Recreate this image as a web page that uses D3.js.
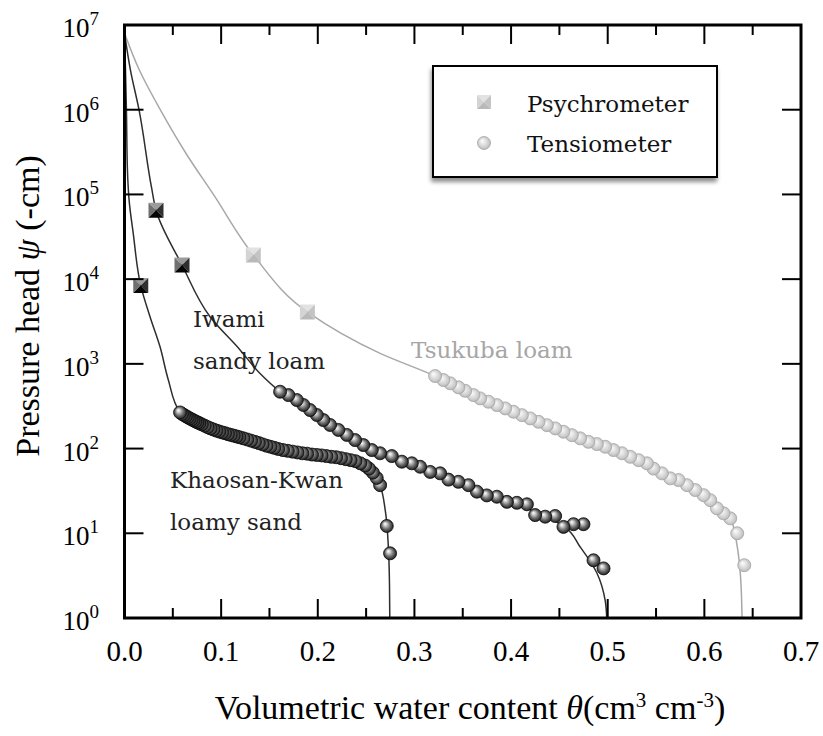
<!DOCTYPE html>
<html>
<head>
<meta charset="utf-8">
<script src="https://cdn.jsdelivr.net/npm/d3@7"></script>
<style>
  html, body { margin: 0; padding: 0; background: #fff; }
  svg { display: block; }
</style>
</head>
<body>
<div id="chart"></div>
<script>
// ---- data (theta in cm3/cm3, psi in -cm) ----
const khaosanPsychro = [[0.0168, 8400]];
const khaosanTensio = [
  [0.0575,267],[0.0595,257],[0.0615,249],[0.0635,241],[0.0655,234],[0.0675,227],[0.0695,221],
  [0.0715,215],[0.0735,209],[0.0755,204],[0.0775,199],[0.080,193],[0.083,186],[0.086,179],
  [0.089,173],[0.092,168],[0.095,163],[0.098,159],[0.101,155],[0.104,152],[0.107,148],
  [0.110,145],[0.113,142],[0.116,139],[0.119,136],[0.123,132],[0.127,128],[0.131,124],
  [0.135,120],[0.139,116],[0.143,112],[0.147,108],[0.151,105],[0.155,102],[0.159,99],
  [0.164,96],[0.169,94],[0.174,92],[0.179,90],[0.184,88],[0.189,87],[0.194,85],[0.199,84],
  [0.204,83],[0.209,81.5],[0.214,80],[0.219,79],[0.224,77],[0.229,75],[0.234,73],[0.239,71],
  [0.244,67],[0.249,63],[0.253,58],[0.257,52],[0.261,45],[0.2645,37],[0.2714,12.2],[0.2748,5.8]
];
const khaosanCurve = [
  [0,8e6],[0.001,3e6],[0.002,1e6],[0.003,2e5],[0.005,8e4],[0.009,3.5e4],[0.0168,8400],
  [0.0264,3600],[0.0367,1600],[0.0453,650],[0.0575,267],[0.09,170],[0.13,125],[0.17,93],
  [0.21,81],[0.24,70],[0.255,55],[0.264,38],[0.27,18],[0.273,7],[0.2742,2.5],[0.2745,1]
];

const iwamiPsychro = [[0.0326, 65000], [0.0595, 14700]];
const iwamiTensio = [
  [0.161,469],[0.1696,428],[0.1783,374],[0.1851,327],[0.192,285],[0.199,249],[0.2058,217],
  [0.2127,190],[0.2213,166],[0.230,145],[0.2386,126],[0.2472,110],[0.2559,96],[0.2645,88],
  [0.2766,81.5],[0.287,70],[0.2973,67],[0.3059,61],[0.3163,53],[0.3266,51],[0.3352,43],
  [0.3455,40.5],[0.3559,37],[0.3646,31],[0.3749,28],[0.3853,27],[0.3957,23.5],[0.406,22.9],
  [0.4164,22],[0.4249,16.4],[0.4353,15.7],[0.4456,16],[0.4542,11.9],[0.4646,12.8],
  [0.4749,12.8],[0.4853,4.8],[0.4957,3.85]
];
const iwamiCurve = [
  [0,8e6],[0.006,3e6],[0.015,1e6],[0.028,1.2e5],[0.0326,6.5e4],[0.0595,1.47e4],[0.0885,3600],
  [0.1196,1460],[0.140,773],[0.161,469],[0.20,240],[0.25,105],[0.30,65],[0.35,40],[0.40,23.5],
  [0.44,15],[0.455,12],[0.4715,6.9],[0.4888,3.4],[0.4974,1.6],[0.499,1]
];

const tsukubaPsychro = [[0.1333, 19300], [0.1892, 4100]];
const tsukubaTensio = [
  [0.3214,718],[0.330,644],[0.337,589],[0.3456,528],[0.3525,481],[0.3611,428],[0.368,391],
  [0.3766,357],[0.3853,326],[0.3939,298],[0.4025,272],[0.4112,248],[0.4198,227],[0.4284,207],
  [0.4371,189],[0.4457,173],[0.4542,158],[0.4629,144],[0.4715,132],[0.4801,120],[0.4888,113],
  [0.4974,105],[0.506,96],[0.5147,88],[0.5233,80],[0.5319,73],[0.5406,67],[0.5474,58],
  [0.5561,51],[0.5647,44.5],[0.5733,42.5],[0.582,37],[0.5906,32.4],[0.5992,28.2],[0.6061,24.6],
  [0.613,19.7],[0.6199,17.2],[0.6268,15],[0.634,10],[0.6413,4.2]
];
const tsukubaCurve = [
  [0,8e6],[0.015,3e6],[0.037,1e6],[0.064,3e5],[0.092,1e5],[0.1333,19300],[0.1892,4100],
  [0.2645,1330],[0.3214,718],[0.37,385],[0.42,227],[0.47,134],[0.52,83],[0.56,48],
  [0.59,33],[0.61,22],[0.627,15],[0.634,7],[0.6375,3],[0.639,1]
];

const xTicks = [0, 0.1, 0.2, 0.3, 0.4, 0.5, 0.6, 0.7];
const xMinorTicks = [0.05, 0.15, 0.25, 0.35, 0.45, 0.55, 0.65];
const yExponents = [0, 1, 2, 3, 4, 5, 6, 7];

// ---- layout ----
const W = 823, H = 736;
const LEFT = 124.5, RIGHT = 801, TOP = 25, BOTTOM = 618;
const TICK_FONT = '"Liberation Serif", "Times New Roman", serif';
const LABEL_FONT = '"DejaVu Serif", serif';

const x = d3.scaleLinear().domain([0, 0.7]).range([LEFT, RIGHT]);
const y = d3.scaleLog().domain([1, 1e7]).range([BOTTOM, TOP]);

const svg = d3.select('#chart').append('svg')
  .attr('width', W).attr('height', H);

const defs = svg.append('defs');
defs.append('clipPath').attr('id', 'plot-clip')
  .append('rect').attr('x', LEFT).attr('y', TOP)
  .attr('width', RIGHT - LEFT).attr('height', BOTTOM - TOP);

function sphereGradient(id, stops) {
  const g = defs.append('radialGradient').attr('id', id)
    .attr('cx', '50%').attr('cy', '50%').attr('r', '55%')
    .attr('fx', '35%').attr('fy', '32%');
  stops.forEach(([o, c]) => g.append('stop').attr('offset', o).attr('stop-color', c));
}
sphereGradient('ball-dark', [['0%', '#ffffff'], ['20%', '#d8d8d8'], ['60%', '#6a6a6a'], ['100%', '#101010']]);
sphereGradient('ball-light', [['0%', '#ffffff'], ['25%', '#eeeeee'], ['70%', '#cfcfcf'], ['100%', '#b0b0b0']]);

const shadow = defs.append('filter').attr('id', 'legend-shadow')
  .attr('x', '-10%').attr('y', '-10%').attr('width', '130%').attr('height', '140%');
shadow.append('feGaussianBlur').attr('in', 'SourceAlpha').attr('stdDeviation', 2);
shadow.append('feOffset').attr('dx', -1).attr('dy', 4).attr('result', 'off');
shadow.append('feComponentTransfer').append('feFuncA').attr('type', 'linear').attr('slope', 0.45);
const merge = shadow.append('feMerge');
merge.append('feMergeNode');
merge.append('feMergeNode').attr('in', 'SourceGraphic');

// ---- curves ----
const line = d3.line()
  .x(d => x(d[0])).y(d => y(d[1]))
  .curve(d3.curveMonotoneY);

const plot = svg.append('g').attr('clip-path', 'url(#plot-clip)');

[[tsukubaCurve, '#a8a8a8'], [iwamiCurve, '#2e2e2e'], [khaosanCurve, '#2e2e2e']]
  .forEach(([pts, color]) => {
    plot.append('path').datum(pts)
      .attr('d', line)
      .attr('fill', 'none')
      .attr('stroke', color)
      .attr('stroke-width', 1.5);
  });

// ---- markers ----
const BALL_R = 6.5;
const SQ = 7.5; // half side of pyramid square

function drawBalls(pts, dark) {
  // higher theta first so the drier points sit on top
  const ordered = pts.slice().sort((a, b) => b[0] - a[0]);
  plot.append('g').selectAll('circle')
    .data(ordered)
    .join('circle')
    .attr('cx', d => x(d[0]))
    .attr('cy', d => y(d[1]))
    .attr('r', BALL_R)
    .attr('fill', dark ? 'url(#ball-dark)' : 'url(#ball-light)')
    .attr('stroke', dark ? '#0a0a0a' : '#a6a6a6')
    .attr('stroke-width', 0.8);
}

function pyramid(g, cx, cy, s, shades) {
  const tl = [cx - s, cy - s], tr = [cx + s, cy - s], br = [cx + s, cy + s], bl = [cx - s, cy + s], c = [cx, cy];
  const faces = [[tl, tr, c], [tl, c, bl], [tr, br, c], [bl, c, br]];
  faces.forEach((f, i) => {
    g.append('polygon').attr('points', f.map(p => p.join(',')).join(' ')).attr('fill', shades[i]);
  });
}

const darkShades = ['#9c9c9c', '#707070', '#303030', '#050505'];
const lightShades = ['#e2e2e2', '#d4d4d4', '#c4c4c4', '#b9b9b9'];

function drawSquares(pts, shades) {
  const g = plot.append('g');
  pts.forEach(d => pyramid(g, x(d[0]), y(d[1]), SQ, shades));
}

drawBalls(tsukubaTensio, false);
drawSquares(tsukubaPsychro, lightShades);
drawBalls(iwamiTensio, true);
drawSquares(iwamiPsychro, darkShades);
drawBalls(khaosanTensio, true);
drawSquares(khaosanPsychro, darkShades);

// ---- frame and ticks ----
const axes = svg.append('g').attr('stroke', '#000').attr('stroke-linecap', 'square');
axes.append('rect')
  .attr('x', LEFT).attr('y', TOP)
  .attr('width', RIGHT - LEFT).attr('height', BOTTOM - TOP)
  .attr('fill', 'none').attr('stroke-width', 3);

const MAJOR = 18, MINOR = 9;
xTicks.slice(1, -1).forEach(t => {
  axes.append('line').attr('x1', x(t)).attr('x2', x(t)).attr('y1', BOTTOM).attr('y2', BOTTOM - MAJOR).attr('stroke-width', 2);
  axes.append('line').attr('x1', x(t)).attr('x2', x(t)).attr('y1', TOP).attr('y2', TOP + MAJOR).attr('stroke-width', 2);
});
xMinorTicks.forEach(t => {
  axes.append('line').attr('x1', x(t)).attr('x2', x(t)).attr('y1', BOTTOM).attr('y2', BOTTOM - MINOR).attr('stroke-width', 2);
  axes.append('line').attr('x1', x(t)).attr('x2', x(t)).attr('y1', TOP).attr('y2', TOP + MINOR).attr('stroke-width', 2);
});
yExponents.slice(1, -1).forEach(e => {
  const v = Math.pow(10, e);
  axes.append('line').attr('x1', LEFT).attr('x2', LEFT + MAJOR).attr('y1', y(v)).attr('y2', y(v)).attr('stroke-width', 2);
  axes.append('line').attr('x1', RIGHT).attr('x2', RIGHT - MAJOR).attr('y1', y(v)).attr('y2', y(v)).attr('stroke-width', 2);
});

// ---- tick labels ----
svg.append('g').selectAll('text')
  .data(xTicks)
  .join('text')
  .attr('x', d => x(d))
  .attr('y', BOTTOM + 43)
  .attr('text-anchor', 'middle')
  .attr('font-family', TICK_FONT)
  .attr('font-size', 29)
  .text(d => d.toFixed(1));

const yl = svg.append('g').selectAll('text')
  .data(yExponents)
  .join('text')
  .attr('x', 99)
  .attr('y', d => y(Math.pow(10, d)) + 12)
  .attr('text-anchor', 'end')
  .attr('font-family', TICK_FONT)
  .attr('font-size', 27);
yl.append('tspan').text('10');
yl.append('tspan').attr('dy', -12).attr('font-size', 19).text(d => d);

// ---- axis titles ----
const xt = svg.append('text')
  .attr('x', 470)
  .attr('y', 719)
  .attr('text-anchor', 'middle')
  .attr('font-family', TICK_FONT)
  .attr('font-size', 34);
xt.append('tspan').text('Volumetric water content ');
xt.append('tspan').attr('font-style', 'italic').text('θ');
xt.append('tspan').text('(cm');
xt.append('tspan').attr('dy', -12).attr('font-size', 21).text('3');
xt.append('tspan').attr('dy', 12).text(' cm');
xt.append('tspan').attr('dy', -12).attr('font-size', 21).text('-3');
xt.append('tspan').attr('dy', 12).text(')');

const yt = svg.append('text')
  .attr('transform', 'translate(39,306) rotate(-90)')
  .attr('text-anchor', 'middle')
  .attr('font-family', TICK_FONT)
  .attr('font-size', 34);
yt.append('tspan').text('Pressure head ');
yt.append('tspan').attr('font-style', 'italic').text('ψ');
yt.append('tspan').text(' (-cm)');

// ---- soil labels ----
const soilLabels = [
  { lines: ['Iwami', 'sandy loam'], x: 193, y: 327, color: '#222' },
  { lines: ['Tsukuba loam'], x: 411, y: 358, color: '#a6a6a6' },
  { lines: ['Khaosan-Kwan', 'loamy sand'], x: 170, y: 488, color: '#222' }
];
soilLabels.forEach(l => {
  const t = svg.append('text')
    .attr('font-family', LABEL_FONT)
    .attr('font-size', 23)
    .attr('fill', l.color);
  l.lines.forEach((s, i) => {
    t.append('tspan').attr('x', l.x).attr('y', l.y + i * 42).text(s);
  });
});

// ---- legend ----
const lg = svg.append('g');
lg.append('rect')
  .attr('x', 433).attr('y', 66).attr('width', 284).attr('height', 111)
  .attr('fill', '#fff').attr('stroke', '#000').attr('stroke-width', 2)
  .attr('filter', 'url(#legend-shadow)');
pyramid(lg, 484, 102, 7, lightShades);
lg.append('circle').attr('cx', 484).attr('cy', 143).attr('r', 6.5)
  .attr('fill', 'url(#ball-light)').attr('stroke', '#a6a6a6').attr('stroke-width', 0.8);
[['Psychrometer', 112], ['Tensiometer', 152]].forEach(([s, ty]) => {
  lg.append('text')
    .attr('x', 527).attr('y', ty)
    .attr('font-family', LABEL_FONT)
    .attr('font-size', 23)
    .attr('fill', '#111')
    .text(s);
});
</script>
</body>
</html>
